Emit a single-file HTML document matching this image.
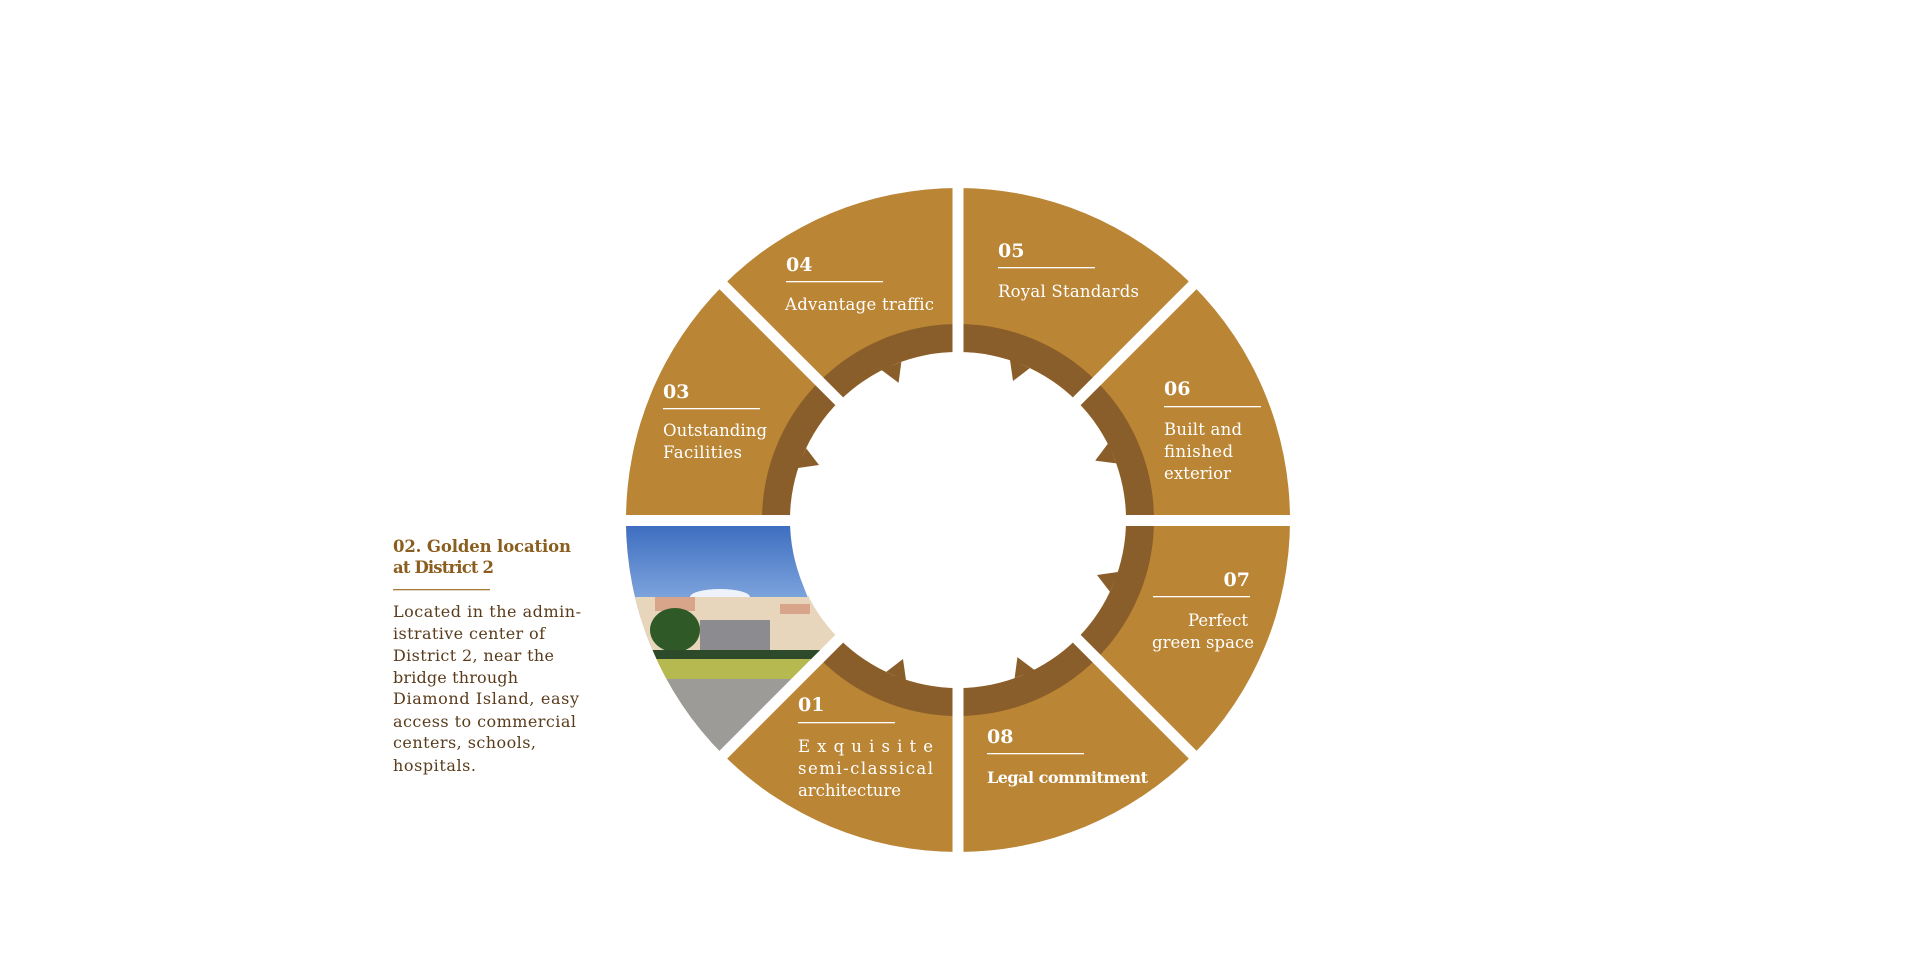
<!DOCTYPE html>
<html><head><meta charset="utf-8"><style>
html,body{margin:0;padding:0;background:#fff;width:1920px;height:980px;overflow:hidden}
svg{display:block}
text{font-family:"DejaVu Serif","Liberation Serif",serif}
</style></head><body>
<svg width="1920" height="980" viewBox="0 0 1920 980" xmlns="http://www.w3.org/2000/svg">
<defs>
<clipPath id="pw"><path d="M958 520 L723.2 754.8 A332 332 0 0 1 626 520 Z"/></clipPath>
<linearGradient id="sky" x1="0" y1="0" x2="0" y2="1"><stop offset="0" stop-color="#3566bd"/><stop offset="1" stop-color="#8bb0e2"/></linearGradient>
</defs>
<circle cx="958" cy="520" r="332" fill="#BA8535"/>
<circle cx="958" cy="520" r="182" fill="none" stroke="#8A5E2A" stroke-width="28"/>
<g clip-path="url(#pw)">
<rect x="600" y="515" width="360" height="100" fill="url(#sky)"/>
<ellipse cx="720" cy="597" rx="30" ry="8" fill="#eef2fa"/>
<rect x="600" y="597" width="360" height="62" fill="#e8d6bc"/>
<rect x="655" y="597" width="40" height="14" fill="#d9a58a"/>
<rect x="780" y="604" width="30" height="10" fill="#d9a58a"/>
<rect x="700" y="620" width="70" height="30" fill="#8c8c90"/>
<ellipse cx="675" cy="630" rx="25" ry="22" fill="#2f5a28"/>
<rect x="600" y="650" width="360" height="9" fill="#2d4a2a"/>
<rect x="600" y="659" width="360" height="20" fill="#b6b850"/>
<rect x="600" y="679" width="360" height="90" fill="#9c9b98"/>
</g>
<circle cx="958" cy="520" r="168" fill="#fff"/>
<g fill="#8A5E2A">
<polygon points="1009.9,359.2 1013,381 1029.8,368.1"/>
<polygon points="1009.9,359.2 1013,381 1029.8,368.1" transform="rotate(45 958 520)"/>
<polygon points="1009.9,359.2 1013,381 1029.8,368.1" transform="rotate(90 958 520)"/>
<polygon points="1009.9,359.2 1013,381 1029.8,368.1" transform="rotate(135 958 520)"/>
<polygon points="1009.9,359.2 1013,381 1029.8,368.1" transform="rotate(180 958 520)"/>
<polygon points="1009.9,359.2 1013,381 1029.8,368.1" transform="rotate(270 958 520)"/>
<polygon points="1009.9,359.2 1013,381 1029.8,368.1" transform="rotate(315 958 520)"/>
</g>
<polygon points="1009.9,359.2 1013,381 1029.8,368.1" fill="#fff" transform="rotate(225 958 520)"/>
<g stroke="#fff" stroke-width="11">
<line x1="958" y1="180" x2="958" y2="860"/>
<line x1="618" y1="520.5" x2="1298" y2="520.5"/>
<line x1="718" y1="280" x2="1198" y2="760"/>
<line x1="1198" y1="280" x2="718" y2="760"/>
</g>
<g fill="#fff" font-size="16.5">
<text x="786" y="271" font-weight="bold" font-size="19">04</text>
<rect x="786" y="281" width="97" height="1.3"/>
<text x="785" y="310" textLength="149">Advantage traffic</text>

<text x="998" y="257" font-weight="bold" font-size="19">05</text>
<rect x="998" y="267" width="97" height="1.3"/>
<text x="998" y="297" textLength="141">Royal Standards</text>

<text x="663" y="398" font-weight="bold" font-size="19">03</text>
<rect x="663" y="408" width="97" height="1.3"/>
<text x="663" y="436" textLength="104">Outstanding</text>
<text x="663" y="458" textLength="79">Facilities</text>

<text x="1164" y="395" font-weight="bold" font-size="19">06</text>
<rect x="1164" y="406" width="97" height="1.3"/>
<text x="1164" y="435" textLength="78">Built and</text>
<text x="1164" y="457" textLength="69">finished</text>
<text x="1164" y="479" textLength="67">exterior</text>

<text x="1250" y="586" font-weight="bold" font-size="19" text-anchor="end">07</text>
<rect x="1153" y="596" width="97" height="1.3"/>
<text x="1248" y="626" text-anchor="end" textLength="60">Perfect</text>
<text x="1254" y="648" text-anchor="end" textLength="102">green space</text>

<text x="798" y="711" font-weight="bold" font-size="19">01</text>
<rect x="798" y="722" width="97" height="1.3"/>
<text x="798" y="752" textLength="135">Exquisite</text>
<text x="798" y="774" textLength="135">semi-classical</text>
<text x="798" y="796" textLength="103">architecture</text>

<text x="987" y="743" font-weight="bold" font-size="19">08</text>
<rect x="987" y="753" width="97" height="1.3"/>
<text x="987" y="783" font-weight="bold" font-size="16" textLength="161">Legal commitment</text>
</g>
<g font-size="16.5">
<text x="393" y="552" fill="#8B5E1F" font-weight="bold" textLength="178">02. Golden location</text>
<text x="393" y="573" fill="#8B5E1F" font-weight="bold" textLength="101">at District 2</text>
<rect x="393" y="589" width="97" height="1.3" fill="#a77a3a"/>
<g fill="#5a3c1c" font-size="16">
<text x="393" y="617" textLength="188">Located in the admin-</text>
<text x="393" y="639" textLength="152">istrative center of</text>
<text x="393" y="661" textLength="161">District 2, near the</text>
<text x="393" y="683" textLength="125">bridge through</text>
<text x="393" y="704" textLength="186">Diamond Island, easy</text>
<text x="393" y="727" textLength="183">access to commercial</text>
<text x="393" y="748" textLength="143">centers, schools,</text>
<text x="393" y="771" textLength="83">hospitals.</text>
</g>
</g>
</svg>
</body></html>
